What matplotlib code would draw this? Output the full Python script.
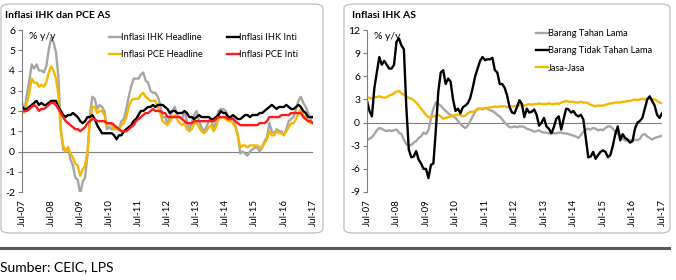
import matplotlib.pyplot as plt
from matplotlib.patches import FancyBboxPatch
from matplotlib.lines import Line2D

plt.rcParams['font.family'] = ['Lato', 'DejaVu Sans']
plt.rcParams['axes.unicode_minus'] = False

# ===== data: monthly y/y, Jul-07 .. Jul-17 =====
tick_labels = ["Jul-07", "Jul-08", "Jul-09", "Jul-10", "Jul-11", "Jul-12",
               "Jul-13", "Jul-14", "Jul-15", "Jul-16", "Jul-17"]

ihk_headline = [2.4, 2.0, 2.8, 3.5, 4.3, 4.1,
                4.3, 4.0, 4.0, 3.9, 4.2, 5.0, 5.6, 5.4, 4.9, 3.7, 1.1, 0.1,
                0.0, 0.2, -0.4, -0.7, -1.3, -1.4, -2.1, -1.5, -1.3, -0.2, 1.8, 2.7,
                2.6, 2.1, 2.3, 2.2, 2.0, 1.1, 1.2, 1.1, 1.1, 1.2, 1.1, 1.5,
                1.6, 2.1, 2.7, 3.2, 3.6, 3.6, 3.6, 3.8, 3.9, 3.5, 3.4, 3.0,
                2.9, 2.9, 2.7, 2.3, 1.7, 1.7, 1.4, 1.7, 2.0, 2.2, 1.8, 1.7,
                1.6, 2.0, 1.5, 1.1, 1.4, 1.8, 2.0, 1.5, 1.2, 1.0, 1.2, 1.5,
                1.6, 1.1, 1.5, 2.0, 2.1, 2.1, 2.0, 1.7, 1.7, 1.7, 1.3, 0.8,
                -0.1, 0.0, -0.1, -0.2, 0.0, 0.1, 0.2, 0.2, 0.0, 0.2, 0.5, 0.7,
                1.4, 1.0, 0.9, 1.1, 1.0, 1.0, 0.8, 1.1, 1.5, 1.6, 1.7, 2.1,
                2.5, 2.7, 2.4, 2.2, 1.9, 1.6, 1.7]

ihk_inti = [2.2, 2.1, 2.1, 2.2, 2.3, 2.4,
            2.5, 2.3, 2.4, 2.3, 2.3, 2.4, 2.5, 2.5, 2.5, 2.2, 2.0, 1.8,
            1.7, 1.8, 1.8, 1.9, 1.8, 1.7, 1.5, 1.4, 1.5, 1.7, 1.7, 1.8,
            1.6, 1.3, 1.1, 0.9, 0.9, 0.9, 0.9, 0.9, 0.8, 0.6, 0.8, 0.8,
            1.0, 1.1, 1.2, 1.3, 1.5, 1.6, 1.8, 2.0, 2.0, 2.1, 2.2, 2.2,
            2.3, 2.2, 2.3, 2.3, 2.3, 2.2, 2.1, 1.9, 2.0, 2.0, 1.9, 1.9,
            1.9, 2.0, 1.9, 1.7, 1.7, 1.6, 1.7, 1.8, 1.7, 1.7, 1.7, 1.7,
            1.6, 1.6, 1.7, 1.8, 2.0, 1.9, 1.9, 1.7, 1.7, 1.8, 1.7, 1.6,
            1.6, 1.7, 1.8, 1.8, 1.7, 1.8, 1.8, 1.8, 1.9, 1.9, 2.0, 2.1,
            2.2, 2.3, 2.2, 2.1, 2.2, 2.2, 2.2, 2.3, 2.2, 2.1, 2.1, 2.2,
            2.3, 2.2, 2.0, 1.9, 1.7, 1.7, 1.7]

pce_headline = [2.2, 1.9, 2.4, 2.9, 3.6, 3.4,
                3.4, 3.2, 3.3, 3.2, 3.4, 3.9, 4.2, 4.0, 3.6, 2.8, 1.0, 0.3,
                0.0, 0.2, -0.1, -0.3, -0.6, -0.7, -1.2, -0.9, -0.7, 0.0, 1.5, 2.2,
                2.2, 1.9, 2.0, 2.0, 1.8, 1.3, 1.4, 1.3, 1.1, 1.1, 1.1, 1.3,
                1.4, 1.7, 2.2, 2.5, 2.6, 2.6, 2.6, 2.8, 2.9, 2.7, 2.6, 2.5,
                2.5, 2.5, 2.2, 1.9, 1.5, 1.4, 1.3, 1.5, 1.7, 1.8, 1.6, 1.4,
                1.3, 1.4, 1.1, 1.0, 1.1, 1.4, 1.4, 1.2, 1.0, 0.9, 1.0, 1.2,
                1.3, 1.0, 1.2, 1.6, 1.7, 1.7, 1.6, 1.5, 1.5, 1.4, 1.2, 0.8,
                0.2, 0.3, 0.3, 0.2, 0.3, 0.3, 0.3, 0.3, 0.2, 0.2, 0.4, 0.6,
                1.0, 0.8, 0.8, 1.0, 0.9, 0.9, 0.8, 1.0, 1.2, 1.4, 1.4, 1.6,
                1.9, 2.1, 1.8, 1.7, 1.5, 1.4, 1.4]

pce_inti = [2.0, 2.0, 2.0, 2.1, 2.2, 2.3,
            2.2, 2.0, 2.1, 2.1, 2.2, 2.3, 2.4, 2.4, 2.3, 2.1, 1.9, 1.7,
            1.5, 1.4, 1.3, 1.2, 1.1, 1.1, 1.0, 1.1, 1.2, 1.4, 1.5, 1.6,
            1.6, 1.5, 1.5, 1.5, 1.5, 1.4, 1.4, 1.4, 1.3, 1.2, 1.1, 1.0,
            1.0, 1.0, 1.1, 1.2, 1.3, 1.5, 1.6, 1.7, 1.8, 1.9, 1.9, 2.0,
            2.1, 2.0, 2.0, 2.0, 1.9, 1.9, 1.7, 1.7, 1.7, 1.7, 1.7, 1.7,
            1.6, 1.5, 1.4, 1.4, 1.4, 1.5, 1.5, 1.5, 1.5, 1.5, 1.5, 1.5,
            1.5, 1.5, 1.6, 1.7, 1.7, 1.7, 1.7, 1.6, 1.6, 1.6, 1.5, 1.4,
            1.3, 1.3, 1.3, 1.3, 1.3, 1.3, 1.3, 1.3, 1.4, 1.4, 1.4, 1.5,
            1.7, 1.7, 1.7, 1.7, 1.7, 1.8, 1.8, 1.8, 1.8, 1.9, 1.9, 1.9,
            1.9, 1.9, 1.7, 1.6, 1.5, 1.5, 1.4]

tahan_lama = [-2.3, -2.1, -1.9, -1.5, -1.0, -0.7,
              -0.8, -1.0, -1.1, -1.0, -1.1, -1.0, -0.9, -1.3, -1.5, -2.2, -2.8, -3.0,
              -2.9, -2.6, -2.4, -2.0, -1.8, -1.3, -1.5, -1.0, 0.5, 1.8, 2.6, 2.4,
              2.2, 1.8, 1.5, 1.2, 1.0, 0.8, 0.6, 0.2, -0.2, -0.5, -0.7, -0.4,
              0.2, 0.8, 1.4, 1.8, 1.8, 1.7, 1.9, 1.8, 1.6, 1.5, 1.3, 1.0,
              0.8, 0.4, 0.0, -0.3, -0.6, -0.6, -0.5, -0.6, -0.5, -0.5, -0.6, -0.8,
              -0.9, -1.0, -1.2, -1.1, -1.0, -1.2, -1.3, -1.3, -1.4, -1.3, -1.4, -1.4,
              -1.3, -1.3, -1.4, -1.4, -1.5, -1.6, -1.7, -1.8, -2.0, -1.6, -1.2, -0.9,
              -0.8, -0.9, -0.7, -0.8, -1.0, -0.9, -1.0, -0.7, -0.5, -0.5, -0.8, -1.2,
              -1.5, -1.6, -2.1, -2.3, -2.4, -2.3, -2.3, -2.2, -2.3, -2.1, -1.6, -1.5,
              -1.8, -2.0, -2.2, -2.0, -1.9, -1.8, -1.7]

tidak_tahan_lama = [2.8, 1.5, 0.8, 4.5, 6.5, 8.5,
                    7.5, 8.0, 7.5, 7.0, 7.0, 7.5, 10.5, 10.9, 10.0, 9.5, 2.0, -3.5,
                    -4.5, -4.4, -3.7, -4.8, -5.3, -6.0, -6.0, -7.2, -5.5, -5.3, -1.0, 4.0,
                    6.5, 6.8, 5.0, 5.7, 5.3, 3.0, 1.5, 1.8, 1.2, 2.0, 2.2, 2.5,
                    3.2, 4.5, 6.0, 7.0, 8.0, 8.5, 8.1, 8.2, 8.2, 8.4, 6.8, 6.5,
                    5.0, 5.0, 4.5, 3.5, 2.0, 1.3, 1.2, 2.0, 2.9, 2.4, 0.7, 1.8,
                    1.3, 1.4, 1.7, 1.0, -0.4, 0.0, 0.6, -0.5, -0.8, -1.4, -0.6, 0.5,
                    0.8, -0.9, 0.5, 1.8, 1.7, 1.3, 1.5, 1.0, 0.8, 1.0, 0.4, -2.0,
                    -4.5, -4.4, -3.8, -4.7, -4.2, -3.8, -3.6, -3.8, -4.5, -4.2, -3.0, -1.5,
                    -0.5, -2.3, -1.5, -2.0, -2.2, -2.6, -2.4, -0.8, 0.0, 0.2, 0.6, 1.8,
                    3.0, 3.4, 2.8, 2.2, 1.0, 0.6, 1.2]

jasa = [3.3, 3.2, 3.1, 3.3, 3.3, 3.4,
        3.3, 3.2, 3.3, 3.5, 3.6, 3.8, 4.0, 4.1, 3.8, 3.6, 3.4, 3.2,
        3.1, 2.9, 2.6, 2.2, 1.8, 1.4, 1.0, 0.7, 0.7, 0.8, 0.9, 1.0,
        0.8, 0.5, 0.6, 0.7, 0.8, 0.9, 1.0, 1.0, 1.0, 0.8, 0.9, 1.2,
        1.4, 1.4, 1.5, 1.7, 1.8, 1.8, 1.9, 1.9, 2.0, 2.0, 2.1, 2.0,
        2.1, 2.1, 2.1, 2.0, 2.1, 2.1, 2.1, 2.2, 2.2, 2.3, 2.2, 2.3,
        2.4, 2.3, 2.4, 2.4, 2.5, 2.4, 2.4, 2.4, 2.5, 2.4, 2.4, 2.5,
        2.4, 2.6, 2.7, 2.8, 2.7, 2.7, 2.7, 2.6, 2.6, 2.7, 2.6, 2.6,
        2.5, 2.3, 2.2, 2.1, 2.2, 2.2, 2.2, 2.3, 2.4, 2.5, 2.5, 2.6,
        2.6, 2.6, 2.7, 2.7, 2.8, 2.8, 2.9, 3.0, 2.9, 3.0, 3.1, 3.0,
        3.1, 3.1, 3.0, 3.0, 2.8, 2.6, 2.5]

months = list(range(len(ihk_headline)))

GRAY = '#a6a6a6'
YELLOW = '#f5b800'
RED = '#ff1a1a'
AXC = '#7f7f7f'

fig = plt.figure(figsize=(6.76, 2.8), dpi=100)

# rounded panel boxes (figure pixels -> fractions)
W, H = 676.0, 280.0
for x0, x1 in [(1, 323), (344, 670)]:
    box = FancyBboxPatch((x0 / W, 1 - 233 / H), (x1 - x0) / W, (233 - 4) / H,
                         boxstyle="round,pad=0,rounding_size=0.015",
                         transform=fig.transFigure, facecolor='none',
                         edgecolor='#bfbfbf', linewidth=0.9)
    fig.patches.append(box)

# separator line and source
fig.add_artist(Line2D([0, 669 / W], [1 - 248 / H, 1 - 248 / H], transform=fig.transFigure,
                      color='#595959', linewidth=2.2))
fig.text(0, 1 - 267 / H, "Sumber: CEIC, LPS", fontsize=10, va='center', ha='left')


def style_axis(ax, ymin, ymax, step):
    ax.set_xlim(0, 120)
    ax.set_ylim(ymin, ymax)
    ax.set_yticks(range(ymin, ymax + 1, step))
    ax.set_xticks(range(0, 121, 12))
    ax.set_xticklabels(tick_labels, rotation=90, fontsize=7)
    for s in ['top', 'right', 'bottom']:
        ax.spines[s].set_visible(False)
    ax.spines['left'].set_color(AXC)
    ax.spines['left'].set_linewidth(0.8)
    ax.tick_params(axis='y', length=3, color=AXC, labelsize=7.5, pad=2)
    ax.tick_params(axis='x', length=0, pad=5)
    ax.axhline(0, color=AXC, linewidth=0.8, zorder=1)
    ax.patch.set_visible(False)
    ax.text(0.025, 0.985, "% y/y", transform=ax.transAxes, fontsize=7.5, va='top')


# ===== left panel =====
ax1 = fig.add_axes([22 / W, 1 - 192 / H, 291 / W, 162 / H])
style_axis(ax1, -2, 6, 1)
ax1.plot(months, ihk_headline, color=GRAY, lw=1.7, label="Inflasi IHK Headline")
ax1.plot(months, pce_headline, color=YELLOW, lw=1.7, label="Inflasi PCE Headline")
ax1.plot(months, ihk_inti, color='black', lw=1.7, label="Inflasi IHK Inti")
ax1.plot(months, pce_inti, color=RED, lw=1.7, label="Inflasi PCE Inti")
ax1.legend(ncol=2, frameon=False,
           fontsize=6.7, loc='upper left', bbox_to_anchor=(109 / W, 1 - 33 / H),
           bbox_transform=fig.transFigure, handlelength=1.25, handletextpad=0.05,
           columnspacing=2.6, labelspacing=0.9, borderpad=0, borderaxespad=0)
fig.text(5 / W, 1 - 16 / H, "Inflasi IHK dan PCE AS", fontsize=7.5, fontweight='bold',
         va='center')

# ===== right panel =====
ax2 = fig.add_axes([367 / W, 1 - 192 / H, 295 / W, 162 / H])
style_axis(ax2, -9, 12, 3)
ax2.plot(months, tahan_lama, color=GRAY, lw=1.7, label="Barang Tahan Lama")
ax2.plot(months, jasa, color=YELLOW, lw=1.7, label="Jasa-Jasa")
ax2.plot(months, tidak_tahan_lama, color='black', lw=1.7, label="Barang Tidak Tahan Lama")
h, l = ax2.get_legend_handles_labels()
order = [0, 2, 1]
ax2.legend([h[i] for i in order], [l[i] for i in order], frameon=False,
           fontsize=6.7, loc='upper left', bbox_to_anchor=(536 / W, 1 - 29 / H),
           bbox_transform=fig.transFigure, handlelength=1.25, handletextpad=0.05,
           labelspacing=0.9, borderpad=0, borderaxespad=0)
fig.text(352 / W, 1 - 16 / H, "Inflasi IHK AS", fontsize=7.5, fontweight='bold',
         va='center')

fig.savefig("out.png", dpi=100)
